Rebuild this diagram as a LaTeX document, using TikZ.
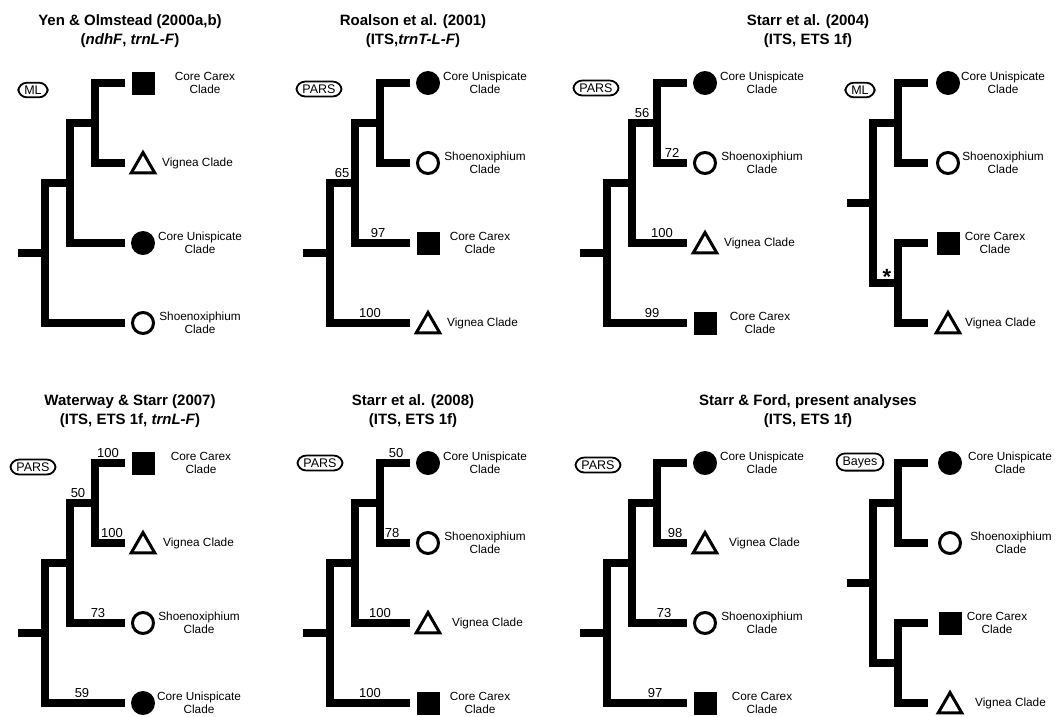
\documentclass[tikz,border=0pt]{standalone}
\usepackage{fontspec}
\setmainfont{Liberation Sans}
\usetikzlibrary{shapes.geometric}

\begin{document}
\begin{tikzpicture}[x=1pt,y=-1pt,
    branch/.style={line width=7.5pt,line join=miter},
    badge/.style={draw,line width=1.8pt,rounded corners=8.5pt,inner xsep=6pt,inner ysep=3pt,font=\fontsize{12.5}{14}\selectfont},
    sq/.style={fill=black,minimum size=23pt,inner sep=0pt},
    dot/.style={circle,fill=black,minimum size=24pt,inner sep=0pt},
    ring/.style={circle,draw,line width=3pt,minimum size=21pt,inner sep=0pt},
    tri/.style={regular polygon,regular polygon sides=3,draw,line width=3pt,minimum size=27pt,inner sep=0pt,yshift=-3pt},
    leaf/.style={align=center,font=\fontsize{11.8}{13}\selectfont,inner sep=0pt},
    supp/.style={anchor=south,font=\fontsize{13}{15}\selectfont,inner sep=0pt},
    title/.style={align=center,font=\bfseries\fontsize{15}{19}\selectfont,inner sep=0pt}]

  \path[use as bounding box,fill=white] (0,0) rectangle (1056,716);

  % titles
  \node[title] (ta) at (130,31)  {Yen \& Olmstead (2000a,b)\\(\textit{ndhF}, \textit{trnL-F})};
  \node[title] (tb) at (413,31)  {Roalson et al. (2001)\\(ITS,\textit{trnT-L-F})};
  \node[title] (tc) at (808,31)  {Starr et al. (2004)\\(ITS, ETS 1f)};
  \node[title] (te) at (130,411) {Waterway \& Starr (2007)\\(ITS, ETS 1f, \textit{trnL-F})};
  \node[title] (tf) at (413,411) {Starr et al. (2008)\\(ITS, ETS 1f)};
  \node[title] (tg) at (808,411) {Starr \& Ford, present analyses\\(ITS, ETS 1f)};

  % Yen & Olmstead, ML
  \begin{scope}[shift={(45,83)}]
    \coordinate (a1) at (80,0);
    \coordinate (a2) at (80,80);
    \coordinate (a3) at (80,160);
    \coordinate (a4) at (80,240);
    \coordinate (a12) at (50,40);
    \coordinate (a123) at (25,100);
    \coordinate (a1234) at (0,170);
    \coordinate (a0) at (-27,170);
    \draw[branch] (a1) -| (a12) |- (a2);
    \draw[branch] (a12) -| (a123) |- (a3);
    \draw[branch] (a123) -| (a1234) |- (a4);
    \draw[branch] (a0) -- (a1234);
    \node[badge] (ab) at (-12,7) {ML};
    \node[sq]   (am1) at (98,0)   {};
    \node[tri]  (am2) at (98,80)  {};
    \node[dot]  (am3) at (98,160) {};
    \node[ring] (am4) at (98,240) {};
    \node[leaf] (al1) at (160,0) {Core Carex\\Clade};
    \node[leaf,anchor=west] (al2) at (117,80) {Vignea Clade};
    \node[leaf] (al3) at (155,160) {Core Unispicate\\Clade};
    \node[leaf] (al4) at (155,240) {Shoenoxiphium\\Clade};
  \end{scope}

  % Roalson et al., PARS
  \begin{scope}[shift={(330,83)}]
    \coordinate (b1) at (80,0);
    \coordinate (b2) at (80,80);
    \coordinate (b3) at (80,160);
    \coordinate (b4) at (80,240);
    \coordinate (b12) at (50,40);
    \coordinate (b123) at (25,100);
    \coordinate (b1234) at (0,170);
    \coordinate (b0) at (-27,170);
    \draw[branch] (b1) -| (b12) |- (b2);
    \draw[branch] (b12) -| (b123) |- (b3);
    \draw[branch] (b123) -| (b1234) |- (b4);
    \draw[branch] (b0) -- (b1234);
    \node[supp] (bs1) at (12,95)  {65};
    \node[supp] (bs2) at (48,155) {97};
    \node[supp] (bs3) at (40,235) {100};
    \node[badge] (bb) at (-11,6) {PARS};
    \node[dot]  (bm1) at (98,0)   {};
    \node[ring] (bm2) at (98,80)  {};
    \node[sq]   (bm3) at (98,160) {};
    \node[tri]  (bm4) at (98,240) {};
    \node[leaf] (bl1) at (155,0) {Core Unispicate\\Clade};
    \node[leaf] (bl2) at (155,80) {Shoenoxiphium\\Clade};
    \node[leaf] (bl3) at (150,160) {Core Carex\\Clade};
    \node[leaf,anchor=west] (bl4) at (117,240) {Vignea Clade};
  \end{scope}

  % Starr et al. 2004, PARS
  \begin{scope}[shift={(607,83)}]
    \coordinate (c1) at (80,0);
    \coordinate (c2) at (80,80);
    \coordinate (c3) at (80,160);
    \coordinate (c4) at (80,240);
    \coordinate (c12) at (50,40);
    \coordinate (c123) at (25,100);
    \coordinate (c1234) at (0,170);
    \coordinate (c0) at (-27,170);
    \draw[branch] (c1) -| (c12) |- (c2);
    \draw[branch] (c12) -| (c123) |- (c3);
    \draw[branch] (c123) -| (c1234) |- (c4);
    \draw[branch] (c0) -- (c1234);
    \node[supp] (cs1) at (35,35)  {56};
    \node[supp] (cs2) at (65,75)  {72};
    \node[supp] (cs3) at (55,155) {100};
    \node[supp] (cs4) at (45,235) {99};
    \node[badge] (cb) at (-11,5) {PARS};
    \node[dot]  (cm1) at (98,0)   {};
    \node[ring] (cm2) at (98,80)  {};
    \node[tri]  (cm3) at (98,160) {};
    \node[sq]   (cm4) at (98,240) {};
    \node[leaf] (cl1) at (155,0) {Core Unispicate\\Clade};
    \node[leaf] (cl2) at (155,80) {Shoenoxiphium\\Clade};
    \node[leaf,anchor=west] (cl3) at (117,160) {Vignea Clade};
    \node[leaf] (cl4) at (153,240) {Core Carex\\Clade};
  \end{scope}

  % Starr et al. 2004, ML
  \begin{scope}[shift={(873,83)}]
    \coordinate (d1) at (55,0);
    \coordinate (d2) at (55,80);
    \coordinate (d3) at (55,160);
    \coordinate (d4) at (55,240);
    \coordinate (d12) at (25,40);
    \coordinate (d34) at (25,200);
    \coordinate (d1234) at (0,120);
    \coordinate (d0) at (-26,120);
    \draw[branch] (d1) -| (d12) |- (d2);
    \draw[branch] (d3) -| (d34) |- (d4);
    \draw[branch] (d12) -| (d1234) |- (d34);
    \draw[branch] (d0) -- (d1234);
    \node[supp,font=\bfseries\fontsize{22}{22}\selectfont] (ds) at (14,202) {*};
    \node[badge] (db) at (-13,7) {ML};
    \node[dot]  (dm1) at (75,0)   {};
    \node[ring] (dm2) at (75,80)  {};
    \node[sq]   (dm3) at (75,160) {};
    \node[tri]  (dm4) at (75,240) {};
    \node[leaf] (dl1) at (130,0) {Core Unispicate\\Clade};
    \node[leaf] (dl2) at (130,80) {Shoenoxiphium\\Clade};
    \node[leaf] (dl3) at (122,160) {Core Carex\\Clade};
    \node[leaf,anchor=west] (dl4) at (92,240) {Vignea Clade};
  \end{scope}

  % Waterway & Starr, PARS
  \begin{scope}[shift={(45,463)}]
    \coordinate (e1) at (80,0);
    \coordinate (e2) at (80,80);
    \coordinate (e3) at (80,160);
    \coordinate (e4) at (80,240);
    \coordinate (e12) at (50,40);
    \coordinate (e123) at (25,100);
    \coordinate (e1234) at (0,170);
    \coordinate (e0) at (-27,170);
    \draw[branch] (e1) -| (e12) |- (e2);
    \draw[branch] (e12) -| (e123) |- (e3);
    \draw[branch] (e123) -| (e1234) |- (e4);
    \draw[branch] (e0) -- (e1234);
    \node[supp] (es1) at (63,-5)  {100};
    \node[supp] (es2) at (33,35)  {50};
    \node[supp] (es3) at (67,75)  {100};
    \node[supp] (es4) at (53,155) {73};
    \node[supp] (es5) at (37,235) {59};
    \node[badge] (eb) at (-12,4) {PARS};
    \node[sq]   (em1) at (98,0)   {};
    \node[tri]  (em2) at (98,80)  {};
    \node[ring] (em3) at (98,160) {};
    \node[dot]  (em4) at (98,240) {};
    \node[leaf] (el1) at (156,0) {Core Carex\\Clade};
    \node[leaf,anchor=west] (el2) at (118,80) {Vignea Clade};
    \node[leaf] (el3) at (154,160) {Shoenoxiphium\\Clade};
    \node[leaf] (el4) at (154,240) {Core Unispicate\\Clade};
  \end{scope}

  % Starr et al. 2008, PARS
  \begin{scope}[shift={(330,463)}]
    \coordinate (f1) at (80,0);
    \coordinate (f2) at (80,80);
    \coordinate (f3) at (80,160);
    \coordinate (f4) at (80,240);
    \coordinate (f12) at (50,40);
    \coordinate (f123) at (25,100);
    \coordinate (f1234) at (0,170);
    \coordinate (f0) at (-27,170);
    \draw[branch] (f1) -| (f12) |- (f2);
    \draw[branch] (f12) -| (f123) |- (f3);
    \draw[branch] (f123) -| (f1234) |- (f4);
    \draw[branch] (f0) -- (f1234);
    \node[supp] (fs1) at (66,-5)  {50};
    \node[supp] (fs2) at (62,75)  {78};
    \node[supp] (fs3) at (50,155) {100};
    \node[supp] (fs4) at (40,235) {100};
    \node[badge] (fb) at (-10,0) {PARS};
    \node[dot]  (fm1) at (98,0)   {};
    \node[ring] (fm2) at (98,80)  {};
    \node[tri]  (fm3) at (98,160) {};
    \node[sq]   (fm4) at (98,240) {};
    \node[leaf] (fl1) at (155,0) {Core Unispicate\\Clade};
    \node[leaf] (fl2) at (155,80) {Shoenoxiphium\\Clade};
    \node[leaf,anchor=west] (fl3) at (122,160) {Vignea Clade};
    \node[leaf] (fl4) at (150,240) {Core Carex\\Clade};
  \end{scope}

  % Starr & Ford, PARS
  \begin{scope}[shift={(607,463)}]
    \coordinate (g1) at (80,0);
    \coordinate (g2) at (80,80);
    \coordinate (g3) at (80,160);
    \coordinate (g4) at (80,240);
    \coordinate (g12) at (50,40);
    \coordinate (g123) at (25,100);
    \coordinate (g1234) at (0,170);
    \coordinate (g0) at (-27,170);
    \draw[branch] (g1) -| (g12) |- (g2);
    \draw[branch] (g12) -| (g123) |- (g3);
    \draw[branch] (g123) -| (g1234) |- (g4);
    \draw[branch] (g0) -- (g1234);
    \node[supp] (gs1) at (68,75)  {98};
    \node[supp] (gs2) at (57,155) {73};
    \node[supp] (gs3) at (48,235) {97};
    \node[badge] (gb) at (-9,2) {PARS};
    \node[dot]  (gm1) at (98,0)   {};
    \node[tri]  (gm2) at (98,80)  {};
    \node[ring] (gm3) at (98,160) {};
    \node[sq]   (gm4) at (98,240) {};
    \node[leaf] (gl1) at (155,0) {Core Unispicate\\Clade};
    \node[leaf,anchor=west] (gl2) at (122,80) {Vignea Clade};
    \node[leaf] (gl3) at (155,160) {Shoenoxiphium\\Clade};
    \node[leaf] (gl4) at (155,240) {Core Carex\\Clade};
  \end{scope}

  % Starr & Ford, Bayes
  \begin{scope}[shift={(873,463)}]
    \coordinate (h1) at (55,0);
    \coordinate (h2) at (55,80);
    \coordinate (h3) at (55,160);
    \coordinate (h4) at (55,240);
    \coordinate (h12) at (25,40);
    \coordinate (h34) at (25,200);
    \coordinate (h1234) at (0,120);
    \coordinate (h0) at (-26,120);
    \draw[branch] (h1) -| (h12) |- (h2);
    \draw[branch] (h3) -| (h34) |- (h4);
    \draw[branch] (h12) -| (h1234) |- (h34);
    \draw[branch] (h0) -- (h1234);
    \node[badge] (hb) at (-13,-1) {Bayes};
    \node[dot]  (hm1) at (77,0)   {};
    \node[ring] (hm2) at (77,80)  {};
    \node[sq]   (hm3) at (77,160) {};
    \node[tri]  (hm4) at (77,240) {};
    \node[leaf] (hl1) at (137,0) {Core Unispicate\\Clade};
    \node[leaf] (hl2) at (138,80) {Shoenoxiphium\\Clade};
    \node[leaf] (hl3) at (124,160) {Core Carex\\Clade};
    \node[leaf,anchor=west] (hl4) at (102,240) {Vignea Clade};
  \end{scope}

\end{tikzpicture}
\end{document}
